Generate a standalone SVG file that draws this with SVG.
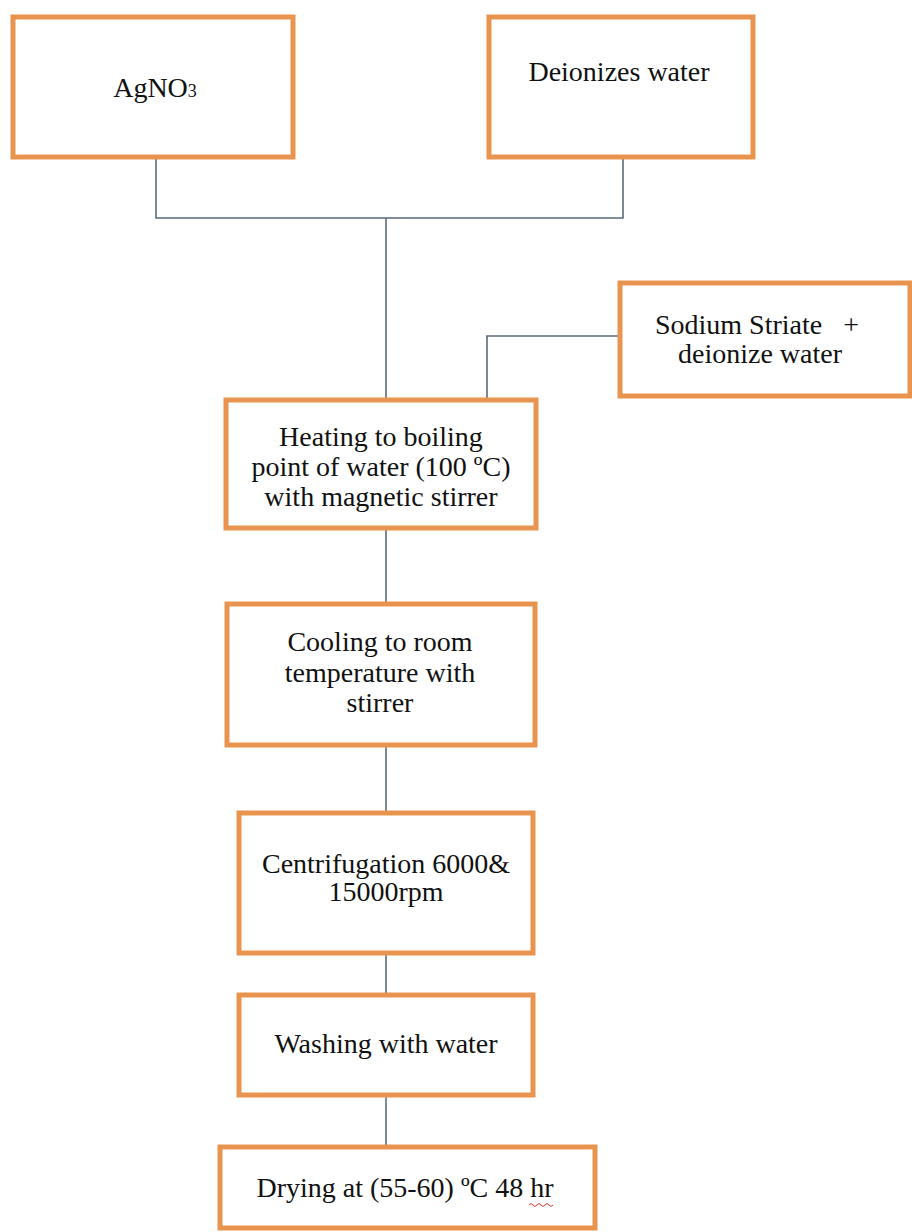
<svg xmlns="http://www.w3.org/2000/svg" width="912" height="1232" viewBox="0 0 912 1232">
<style>
.box{fill:#fff;stroke:#E8944F;stroke-width:5}
.t{font-family:"Liberation Serif","Times New Roman",serif;font-size:28px;fill:#111;text-anchor:middle}
.c{fill:none;stroke:#5A6B7B;stroke-width:1.6}
</style>
<rect width="912" height="1232" fill="#fff"/>
<g id="connectors">
<path class="c" d="M156 157 V218 H623 V157"/>
<path class="c" d="M386 218 V400"/>
<path class="c" d="M620 336 H487 V400"/>
<path class="c" d="M386 528 V604"/>
<path class="c" d="M386 745 V813"/>
<path class="c" d="M386 953 V995"/>
<path class="c" d="M386 1095 V1147"/>
</g>
<g id="agno3">
<rect class="box" x="13" y="17" width="280" height="140"/>
<text class="t" x="155" y="97">AgNO<tspan font-size="18">3</tspan></text>
</g>
<g id="deionized-water">
<rect class="box" x="489" y="17" width="264" height="140"/>
<text class="t" x="619" y="81">Deionizes water</text>
</g>
<g id="sodium-striate">
<rect class="box" x="620" y="283" width="290" height="113"/>
<text class="t" x="757" y="334" xml:space="preserve">Sodium Striate   +</text>
<text class="t" x="760" y="363">deionize water</text>
</g>
<g id="heating">
<rect class="box" x="226" y="400" width="310" height="128"/>
<text class="t" x="381" y="446">Heating to boiling</text>
<text class="t" x="381" y="476">point of water (100 ºC)</text>
<text class="t" x="381" y="506">with magnetic stirrer</text>
</g>
<g id="cooling">
<rect class="box" x="227" y="604" width="308" height="141"/>
<text class="t" x="380" y="651">Cooling to room</text>
<text class="t" x="380" y="682">temperature with</text>
<text class="t" x="380" y="712">stirrer</text>
</g>
<g id="centrifugation">
<rect class="box" x="239" y="813" width="294" height="140"/>
<text class="t" x="386" y="873">Centrifugation 6000&amp;</text>
<text class="t" x="386" y="901">15000rpm</text>
</g>
<g id="washing">
<rect class="box" x="239" y="995" width="294" height="100"/>
<text class="t" x="386" y="1053">Washing with water</text>
</g>
<g id="drying">
<rect class="box" x="220" y="1147" width="375" height="81"/>
<text class="t" x="405" y="1197">Drying at (55-60) ºC 48 hr</text>
<path d="M529 1205 q2 -3 4 0 t4 0 t4 0 t4 0 t4 0 t4 0" fill="none" stroke="#D33" stroke-width="1"/>
</g>
</svg>
